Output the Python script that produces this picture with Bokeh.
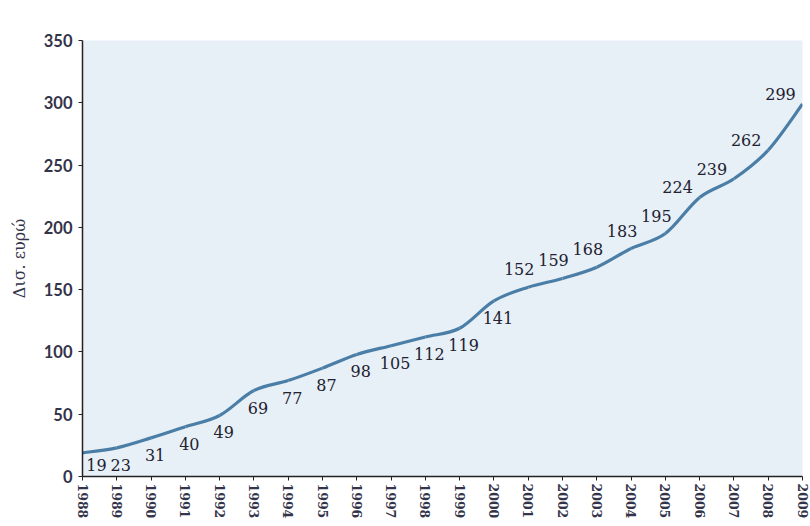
import numpy as np
from bokeh.plotting import figure
from bokeh.models import ColumnDataSource, Range1d, FixedTicker
from bokeh.core.properties import value
from bokeh.embed import file_html
from bokeh.resources import INLINE

# ---- data ----
years = [1988, 1989, 1990, 1991, 1992, 1993, 1994, 1995, 1996, 1997, 1998,
         1999, 2000, 2001, 2002, 2003, 2004, 2005, 2006, 2007, 2008, 2009]
values = [19, 23, 31, 40, 49, 69, 77, 87, 98, 105, 112,
          119, 141, 152, 159, 168, 183, 195, 224, 239, 262, 299]
y_ticks = [0, 50, 100, 150, 200, 250, 300, 350]
y_label = "Δισ. ευρώ"

# ---- label placement (style) ----
placement = (["below_right"] + ["below"] * 12 + ["above"] * 5 + ["left"] * 4)
offsets = {"below_right": (14, 12), "below": (4, 17), "above": (-9, -18), "left": (-22, -10)}
dx = [offsets[p][0] for p in placement]
dy = [offsets[p][1] for p in placement]

p = figure(width=810, height=526, output_backend="svg", toolbar_location=None,
           x_range=Range1d(1988, 2009), y_range=Range1d(0, 350),
           min_border_left=82, min_border_right=8, min_border_top=40, min_border_bottom=50)
p.background_fill_color = "#e7eff7"
p.border_fill_color = "white"
p.outline_line_color = None
p.xgrid.visible = False
p.ygrid.visible = False

# smooth line via Catmull-Rom bezier segments computed from the data
xs = np.array(years, dtype=float)
ys = np.array(values, dtype=float)
n = len(xs)
x0, y0, x1, y1, cx0, cy0, cx1, cy1 = [], [], [], [], [], [], [], []
for i in range(n - 1):
    ip = max(i - 1, 0)
    inn = min(i + 2, n - 1)
    x0.append(xs[i]); y0.append(ys[i])
    x1.append(xs[i + 1]); y1.append(ys[i + 1])
    cx0.append(xs[i] + (xs[i + 1] - xs[ip]) / 6.0)
    cy0.append(ys[i] + (ys[i + 1] - ys[ip]) / 6.0)
    cx1.append(xs[i + 1] - (xs[inn] - xs[i]) / 6.0)
    cy1.append(ys[i + 1] - (ys[inn] - ys[i]) / 6.0)
p.bezier(x0=x0, y0=y0, x1=x1, y1=y1, cx0=cx0, cy0=cy0, cx1=cx1, cy1=cy1,
         line_color="#4a7ea6", line_width=3.2)

src = ColumnDataSource(dict(x=years, y=values, t=[str(v) for v in values], dx=dx, dy=dy))
p.text(x="x", y="y", text="t", source=src, x_offset="dx", y_offset="dy",
       text_align="center", text_baseline="middle",
       text_font=value("DejaVu Serif"), text_font_size="16px", text_color="#222230")

# axes
xa = p.xaxis[0]
xa.ticker = FixedTicker(ticks=years)
xa.major_label_orientation = -np.pi / 2
xa.major_label_text_font = "DejaVu Serif"
xa.major_label_text_font_style = "bold"
xa.major_label_text_font_size = "12.5px"
xa.major_label_text_color = "#33334a"
xa.axis_line_color = "#222222"
xa.axis_line_width = 1.5
xa.major_tick_in = 0
xa.major_tick_out = 4
xa.major_tick_line_color = "#222222"
xa.minor_tick_line_color = None
xa.major_label_standoff = 3

ya = p.yaxis[0]
ya.ticker = FixedTicker(ticks=y_ticks)
ya.major_label_text_font = "Lato"
ya.major_label_text_font_style = "bold"
ya.major_label_text_font_size = "16.5px"
ya.major_label_text_color = "#33334a"
ya.axis_line_color = "#222222"
ya.axis_line_width = 1.5
ya.major_tick_in = 0
ya.major_tick_out = 4
ya.major_tick_line_color = "#222222"
ya.minor_tick_line_color = None
ya.major_label_standoff = 6
ya.axis_label = y_label
ya.axis_label_text_font = "DejaVu Serif"
ya.axis_label_text_font_style = "normal"
ya.axis_label_text_font_size = "16px"
ya.axis_label_text_color = "#33334a"
ya.axis_label_standoff = 12

open("out.html", "w").write(file_html(p, INLINE))
